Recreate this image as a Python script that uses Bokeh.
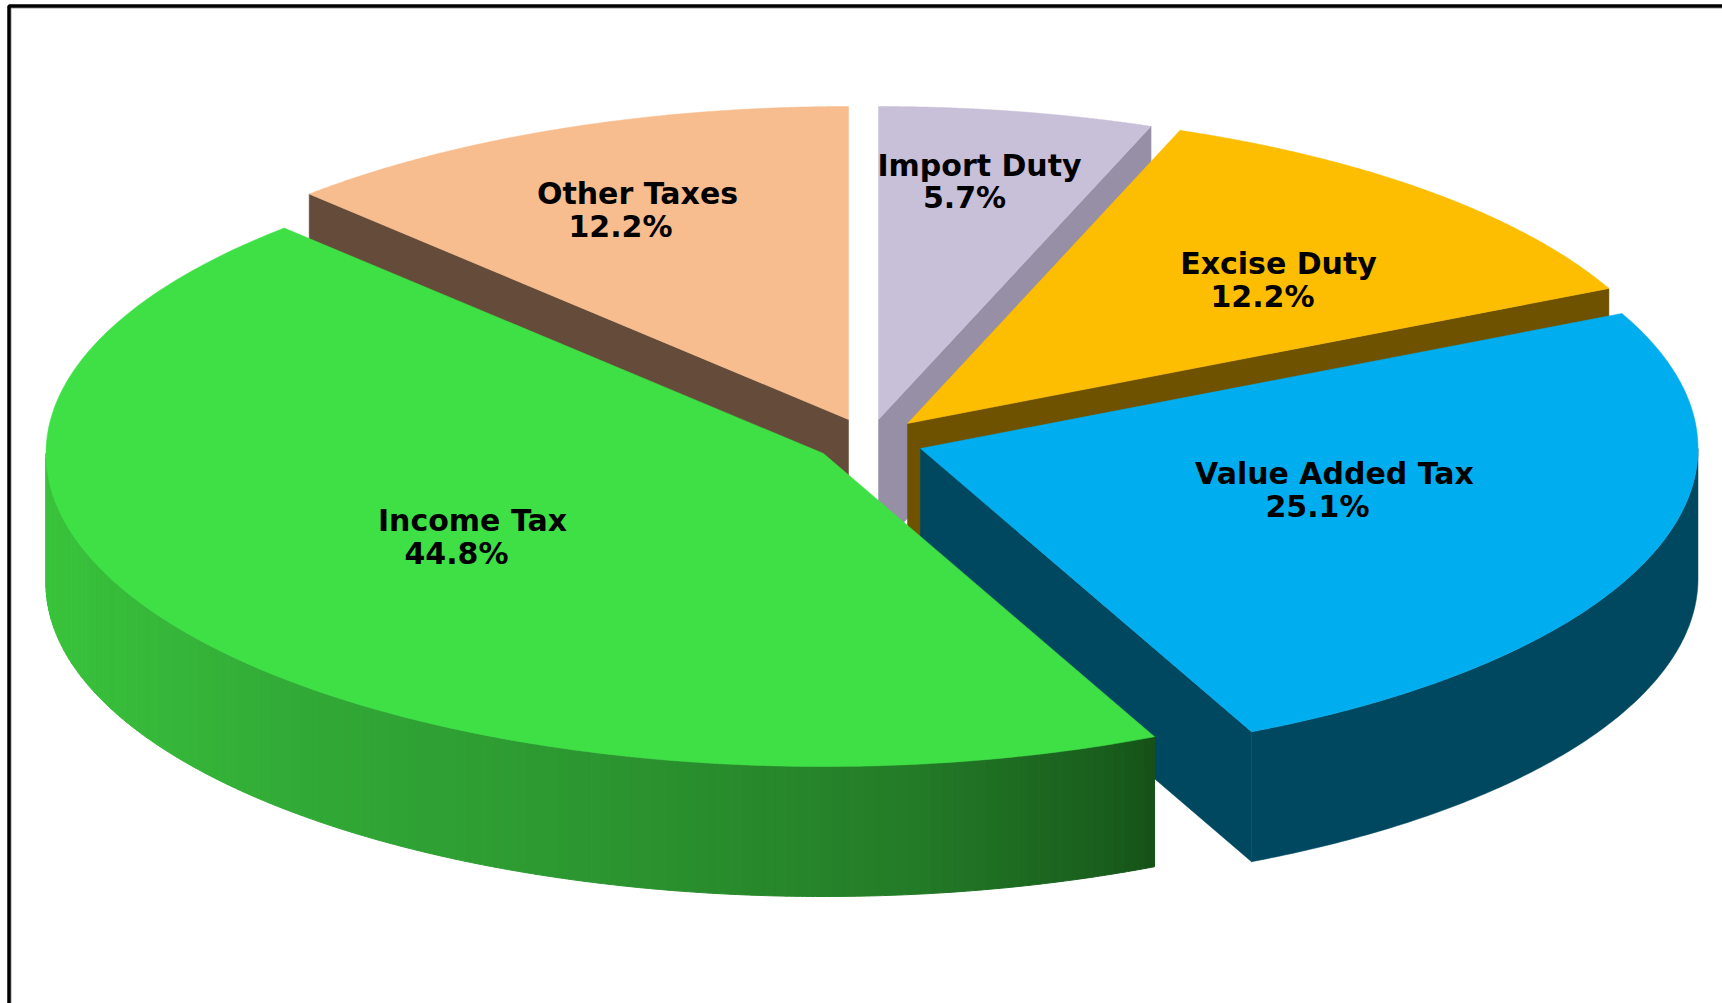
import numpy as np
from bokeh.plotting import figure
from bokeh.models import Range1d, ColumnDataSource
from bokeh.core.properties import value
from bokeh.embed import file_html
from bokeh.resources import INLINE

# Data, in pie order, clockwise from the top
categories = ["Import Duty", "Excise Duty", "Value Added Tax", "Income Tax", "Other Taxes"]
shares = [5.7, 12.2, 25.1, 44.8, 12.2]

# Style
top_colors = ["#C8BFD8", "#FDBD00", "#00AEEF", "#3FE046", "#F7BD8E"]
wall_colors = ["#978FA5", "#6E5200", "#004860", "#3FE046", "#654B39"]
apex_x = [878, 907, 920, 823, 848]
apex_y = [419, 423, 448, 453, 419]
RX, RY, DEPTH = 777.5, 313.0, 130.0
LABEL_DY = -11
name_pos = [(979, 176), (1278, 274), (1334, 484), (472, 531), (637, 204)]
pct_pos = [(964, 208), (1262, 307), (1317, 517), (456, 564), (620, 237)]
draw_order = [4, 0, 1, 2, 3]
wall_edge = {4: "start", 0: "end", 1: "end", 2: "end"}
grad_x = [46, 300, 600, 900, 1100, 1153]
grad_r = [58, 50, 44, 36, 26, 22]
grad_g = [195, 170, 150, 125, 95, 82]
grad_b = [60, 55, 48, 40, 30, 24]

edges = np.concatenate([[0], np.cumsum(shares)]) / sum(shares) * 2 * np.pi


def rim(i, theta):
    return apex_x[i] + RX * np.sin(theta), apex_y[i] - RY * np.cos(theta)


p = figure(width=1722, height=1003, output_backend="svg", toolbar_location=None,
           x_range=Range1d(0, 1722), y_range=Range1d(1003, 0),
           min_border=0, outline_line_color=None,
           background_fill_color="white", border_fill_color="white")
p.xaxis.visible = False
p.yaxis.visible = False
p.grid.visible = False

# Frame
p.line([10.5, 10.5], [1003, 7.5], line_color="#999999", line_width=1)
p.line([10, 1722], [7.5, 7.5], line_color="#999999", line_width=1)
p.line([8.5, 8.5, 1722], [1003, 5.5, 5.5], line_color="black", line_width=3.5)

for i in draw_order:
    a0, a1 = edges[i], edges[i + 1]
    # radial wall
    if i in wall_edge:
        th = a0 if wall_edge[i] == "start" else a1
        rx_, ry_ = rim(i, th)
        p.patch([apex_x[i], rx_, rx_, apex_x[i]],
                [apex_y[i], ry_, ry_ + DEPTH, apex_y[i] + DEPTH],
                fill_color=wall_colors[i], line_color=wall_colors[i], line_width=0.5)
    # outer rim (front half only)
    lo, hi = max(a0, np.pi / 2), min(a1, 3 * np.pi / 2)
    if hi > lo:
        if categories[i] == "Income Tax":
            steps = np.linspace(lo, hi, 141)
            xs, ys, cols = [], [], []
            for s0, s1 in zip(steps[:-1], steps[1:]):
                t = np.linspace(s0, s1, 4)
                x_, y_ = rim(i, t)
                xs.append(np.concatenate([x_, x_[::-1]]))
                ys.append(np.concatenate([y_, (y_ + DEPTH)[::-1]]))
                xm = x_.mean()
                cols.append("#%02x%02x%02x" % (int(np.interp(xm, grad_x, grad_r)),
                                               int(np.interp(xm, grad_x, grad_g)),
                                               int(np.interp(xm, grad_x, grad_b))))
            p.patches(xs, ys, fill_color=cols, line_color=cols, line_width=1)
        else:
            t = np.linspace(lo, hi, 120)
            x_, y_ = rim(i, t)
            p.patch(np.concatenate([x_, x_[::-1]]), np.concatenate([y_, (y_ + DEPTH)[::-1]]),
                    fill_color=wall_colors[i], line_color=wall_colors[i], line_width=0.5)
    # top face
    t = np.linspace(a0, a1, 200)
    x_, y_ = rim(i, t)
    p.patch(np.concatenate([[apex_x[i]], x_]), np.concatenate([[apex_y[i]], y_]),
            fill_color=top_colors[i], line_color=top_colors[i], line_width=0.5)

# Labels
src = ColumnDataSource(dict(
    x=[q[0] for q in name_pos] + [q[0] for q in pct_pos],
    y=[q[1] + LABEL_DY for q in name_pos] + [q[1] + LABEL_DY for q in pct_pos],
    t=categories + ["%.1f%%" % v for v in shares],
))
p.text("x", "y", text="t", source=src, text_font=value("DejaVu Sans"), text_font_style="bold",
       text_font_size="30px", text_color="black", text_align="center", text_baseline="alphabetic")

open("out.html", "w").write(file_html(p, INLINE))
